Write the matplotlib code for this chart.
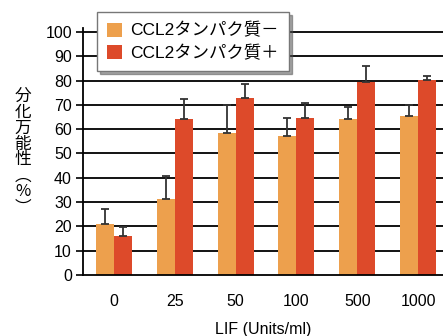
import numpy as np
import matplotlib
matplotlib.use("Agg")
import matplotlib.pyplot as plt

plt.rcParams['font.family'] = ['Liberation Sans', 'Noto Sans CJK JP', 'DejaVu Sans']

categories = ["0", "25", "50", "100", "500", "1000"]
minus_vals = [21.0, 31.3, 58.4, 57.2, 64.2, 65.4]
minus_err = [6.0, 9.6, 11.4, 7.3, 4.7, 4.4]
plus_vals = [16.0, 64.2, 72.8, 64.6, 79.4, 80.2]
plus_err = [3.6, 8.0, 5.7, 6.2, 6.6, 1.7]
legend_labels = ["CCL2タンパク質－", "CCL2タンパク質＋"]

c_minus = "#EDA04D"
c_plus = "#DD4A2A"

fig = plt.figure(figsize=(4.43, 3.36), dpi=100)
ax = fig.add_axes([83/443, 61/336, 360/443, 247/336])

x = np.arange(len(categories))
w = 0.296

ax.set_axisbelow(True)
for v in range(10, 101, 10):
    ax.axhline(v, color="black", lw=1.3, zorder=0)

ax.bar(x - w/2, minus_vals, w, color=c_minus, label=legend_labels[0], zorder=2)
ax.bar(x + w/2, plus_vals, w, color=c_plus, label=legend_labels[1], zorder=2)
ax.errorbar(x - w/2, minus_vals, yerr=[np.zeros(6), minus_err], fmt="none",
            ecolor="#333333", elinewidth=1.3, capsize=3, capthick=1.3, zorder=3)
ax.errorbar(x + w/2, plus_vals, yerr=[np.zeros(6), plus_err], fmt="none",
            ecolor="#333333", elinewidth=1.3, capsize=3, capthick=1.3, zorder=3)

ax.set_xlim(-0.51, 5.41)
ax.set_ylim(0, 101.6)
ax.set_yticks(range(0, 101, 10))
ax.set_xticks(x)
ax.set_xticklabels(categories)
ax.tick_params(axis="y", direction="out", length=5, width=1.2, labelsize=11.5, pad=3)
ax.tick_params(axis="x", length=0, labelsize=11.5, pad=14)
for s in ["top", "right"]:
    ax.spines[s].set_visible(False)
ax.spines["left"].set_linewidth(1.3)
ax.spines["bottom"].set_linewidth(1.3)

ax.set_xlabel("LIF (Units/ml)", fontsize=11.5, labelpad=9)

fig.text(23/443, 1 - 152/336, "\n".join(["分", "化", "万", "能", "性", "︵", "%", "︶"]),
         family=['Noto Sans CJK JP', 'DejaVu Sans'], fontsize=12,
         ha="center", va="center", linespacing=0.92)

leg = ax.legend(loc="upper left", bbox_to_anchor=(14/360, 1.0 + 16/247), fontsize=12.5,
                frameon=True, fancybox=False, shadow=True, borderpad=0.6,
                handlelength=0.85, handleheight=0.85, handletextpad=0.45,
                labelspacing=0.35, borderaxespad=0)
leg.get_frame().set_edgecolor("#777777")
leg.get_frame().set_linewidth(1.0)
for t in leg.get_texts():
    t.set_family(['Liberation Sans', 'Noto Sans CJK JP'])

fig.savefig("out.png", dpi=100)
